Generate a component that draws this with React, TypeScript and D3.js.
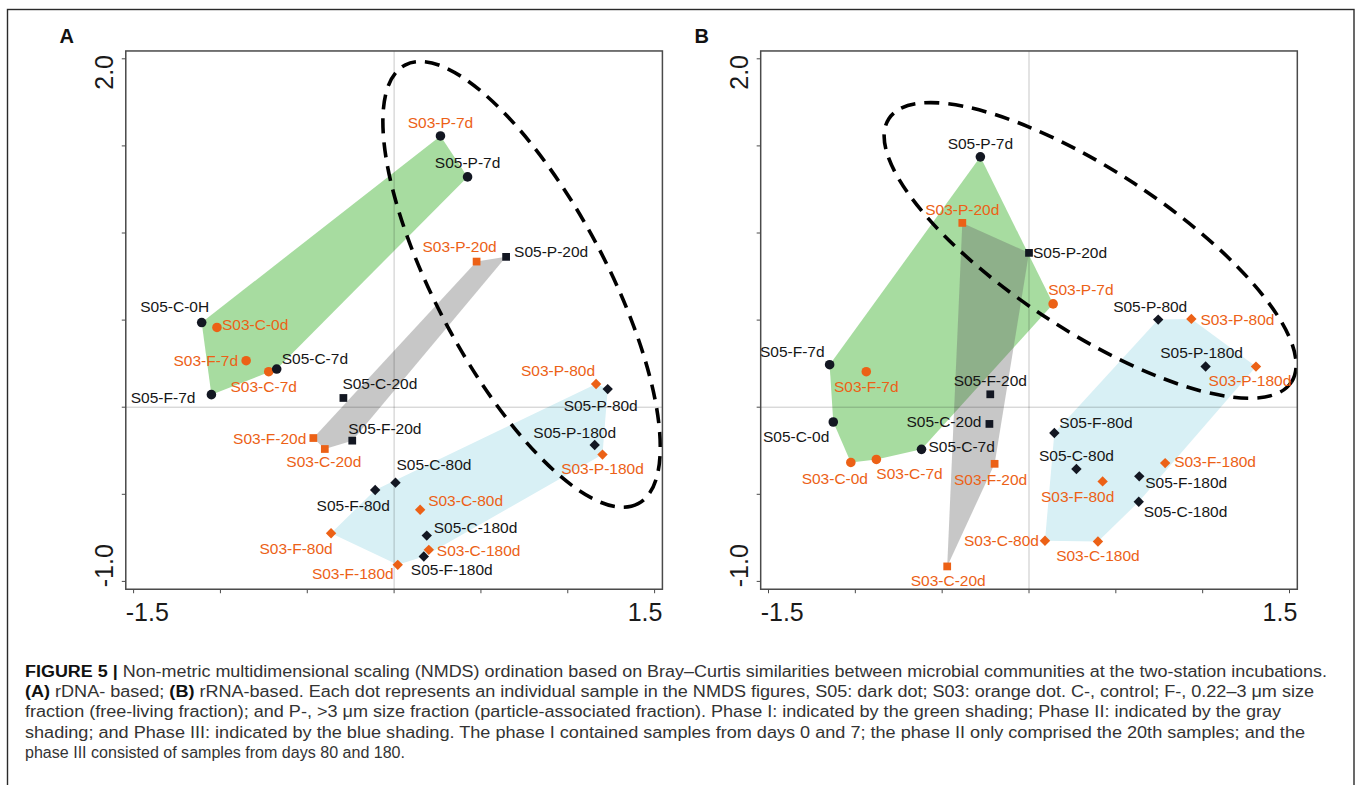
import * as d3 from 'd3'

const W = 1357
const H = 785

// NMDS scores, panel A (rDNA-based)
const POINTS_A = [
  { id: 'S03-P-7d', x: 0.267, y: 1.557 },
  { id: 'S05-P-7d', x: 0.423, y: 1.322 },
  { id: 'S03-P-20d', x: 0.475, y: 0.836 },
  { id: 'S05-P-20d', x: 0.645, y: 0.863 },
  { id: 'S05-C-0H', x: -1.108, y: 0.486 },
  { id: 'S03-C-0d', x: -1.02, y: 0.458 },
  { id: 'S03-F-7d', x: -0.852, y: 0.267 },
  { id: 'S03-C-7d', x: -0.722, y: 0.204 },
  { id: 'S05-C-7d', x: -0.676, y: 0.219 },
  { id: 'S05-F-7d', x: -1.052, y: 0.072 },
  { id: 'S05-C-20d', x: -0.292, y: 0.053 },
  { id: 'S05-F-20d', x: -0.241, y: -0.192 },
  { id: 'S03-F-20d', x: -0.465, y: -0.177 },
  { id: 'S03-C-20d', x: -0.399, y: -0.24 },
  { id: 'S05-C-80d', x: 0.008, y: -0.433 },
  { id: 'S05-F-80d', x: -0.109, y: -0.475 },
  { id: 'S03-C-80d', x: 0.15, y: -0.589 },
  { id: 'S05-C-180d', x: 0.188, y: -0.737 },
  { id: 'S03-C-180d', x: 0.2, y: -0.819 },
  { id: 'S05-F-180d', x: 0.171, y: -0.857 },
  { id: 'S03-F-180d', x: 0.021, y: -0.905 },
  { id: 'S03-F-80d', x: -0.363, y: -0.724 },
  { id: 'S03-P-80d', x: 1.163, y: 0.133 },
  { id: 'S05-P-80d', x: 1.23, y: 0.104 },
  { id: 'S05-P-180d', x: 1.155, y: -0.217 },
  { id: 'S03-P-180d', x: 1.2, y: -0.272 }
]

// panel B (rRNA-based)
const POINTS_B = [
  { id: 'S05-P-7d', x: -0.28, y: 1.437 },
  { id: 'S03-P-20d', x: -0.384, y: 1.058 },
  { id: 'S05-P-20d', x: 0.0, y: 0.886 },
  { id: 'S03-P-7d', x: 0.139, y: 0.593 },
  { id: 'S05-P-80d', x: 0.744, y: 0.503 },
  { id: 'S03-P-80d', x: 0.935, y: 0.507 },
  { id: 'S05-P-180d', x: 1.017, y: 0.234 },
  { id: 'S03-P-180d', x: 1.307, y: 0.233 },
  { id: 'S05-F-7d', x: -1.148, y: 0.244 },
  { id: 'S03-F-7d', x: -0.937, y: 0.204 },
  { id: 'S05-F-20d', x: -0.223, y: 0.074 },
  { id: 'S05-C-0d', x: -1.127, y: -0.085 },
  { id: 'S05-C-20d', x: -0.228, y: -0.096 },
  { id: 'S05-F-80d', x: 0.146, y: -0.148 },
  { id: 'S05-C-7d', x: -0.619, y: -0.242 },
  { id: 'S03-C-0d', x: -1.026, y: -0.317 },
  { id: 'S03-C-7d', x: -0.879, y: -0.3 },
  { id: 'S03-F-20d', x: -0.198, y: -0.325 },
  { id: 'S03-F-180d', x: 0.784, y: -0.321 },
  { id: 'S05-C-80d', x: 0.273, y: -0.355 },
  { id: 'S05-F-180d', x: 0.635, y: -0.397 },
  { id: 'S03-F-80d', x: 0.424, y: -0.426 },
  { id: 'S05-C-180d', x: 0.632, y: -0.543 },
  { id: 'S03-C-80d', x: 0.092, y: -0.767 },
  { id: 'S03-C-180d', x: 0.397, y: -0.771 },
  { id: 'S03-C-20d', x: -0.471, y: -0.914 }
]

// dashed ellipses marking the particle-associated samples (data units, degrees)
const ELLIPSE_A = { cx: 0.734, cy: 0.705, rx: 1.43, ry: 0.49, angle: 62 }
const ELLIPSE_B = { cx: 0.352, cy: 0.9, rx: 1.385, ry: 0.462, angle: 33.2 }

// samples left out of a phase outline
const HULL_SKIP_A = ['S05-C-20d']
const HULL_SKIP_B: string[] = []
// S03-P-7d is drawn with a dark dot in panel A
const DARK_A = ['S03-P-7d']
const DARK_B: string[] = []

const X_TICKS = [-1.5, -1, -0.5, 0, 0.5, 1, 1.5]
const Y_TICKS = [-1, -0.5, 0, 0.5, 1, 1.5, 2]
const X_LABELS = ['-1.5', '1.5']
const Y_LABELS = ['-1.0', '2.0']

const PHASES = [
  { key: 'I', days: ['0H', '0d', '7d'], fill: '#a7dca0', opacity: 1 },
  { key: 'III', days: ['80d', '180d'], fill: '#d8f0f5', opacity: 1 },
  { key: 'II', days: ['20d'], fill: '#646464', opacity: 0.36 }
]

// label offsets from the marker: [dx, dy, anchor]
const LABELS_A: Record<string, [number, number, string]> = {
  'S03-P-7d': [0, -13, 'middle'],
  'S05-P-7d': [0, -14, 'middle'],
  'S03-P-20d': [-17, -15, 'middle'],
  'S05-P-20d': [8, -5, 'start'],
  'S05-C-0H': [-27, -16, 'middle'],
  'S03-C-0d': [5, -3, 'start'],
  'S03-F-7d': [-8, 0, 'end'],
  'S05-C-7d': [5, -11, 'start'],
  'S03-C-7d': [-5, 15, 'middle'],
  'S05-F-7d': [-16, 3, 'end'],
  'S05-C-20d': [-1, -14, 'start'],
  'S05-F-20d': [-4, -12, 'start'],
  'S03-F-20d': [-7, 0, 'end'],
  'S03-C-20d': [-1, 12, 'middle'],
  'S05-C-80d': [1, -18, 'start'],
  'S05-F-80d': [-22, 16, 'middle'],
  'S03-C-80d': [8, -9, 'start'],
  'S05-C-180d': [7, -8, 'start'],
  'S03-C-180d': [8, 1, 'start'],
  'S05-F-180d': [-13, 13, 'start'],
  'S03-F-180d': [-4, 9, 'end'],
  'S03-F-80d': [-35, 15, 'middle'],
  'S03-P-80d': [-1, -14, 'end'],
  'S05-P-80d': [-7, 16, 'middle'],
  'S05-P-180d': [-20, -13, 'middle'],
  'S03-P-180d': [0, 14, 'middle']
}

const LABELS_B: Record<string, [number, number, string]> = {
  'S05-P-7d': [0, -13, 'middle'],
  'S03-P-20d': [0, -13, 'middle'],
  'S05-P-20d': [4, 0, 'start'],
  'S03-P-7d': [-5, -14, 'start'],
  'S05-P-80d': [-8, -13, 'middle'],
  'S03-P-80d': [9, 1, 'start'],
  'S05-P-180d': [-4, -14, 'middle'],
  'S03-P-180d': [-6, 14, 'middle'],
  'S05-F-7d': [-5, -13, 'end'],
  'S03-F-7d': [0, 15, 'middle'],
  'S05-F-20d': [0, -14, 'middle'],
  'S05-C-0d': [-4, 14, 'end'],
  'S05-C-20d': [-8, -2, 'end'],
  'S05-F-80d': [5, -10, 'start'],
  'S05-C-7d': [7, -3, 'start'],
  'S03-C-0d': [-16, 16, 'middle'],
  'S03-C-7d': [0, 14, 'start'],
  'S03-F-20d': [-4, 16, 'middle'],
  'S05-C-80d': [0, -14, 'middle'],
  'S03-F-180d': [9, -2, 'start'],
  'S05-F-180d': [6, 6, 'start'],
  'S03-F-80d': [-25, 15, 'middle'],
  'S05-C-180d': [5, 10, 'start'],
  'S03-C-80d': [-6, 0, 'end'],
  'S03-C-180d': [0, 14, 'middle'],
  'S03-C-20d': [1, 14, 'middle']
}

const CAPTION = [
  { bold: 'FIGURE 5 | ', text: 'Non-metric multidimensional scaling (NMDS) ordination based on Bray–Curtis similarities between microbial communities at the two-station incubations.', end: 1327 },
  { bold: '(A)', text: ' rDNA- based; ', bold2: '(B)', text2: ' rRNA-based. Each dot represents an individual sample in the NMDS figures, S05: dark dot; S03: orange dot. C-, control; F-, 0.22–3 μm size', end: 1314 },
  { text: 'fraction (free-living fraction); and P-, >3 μm size fraction (particle-associated fraction). Phase I: indicated by the green shading; Phase II: indicated by the gray', end: 1281 },
  { text: 'shading; and Phase III: indicated by the blue shading. The phase I contained samples from days 0 and 7; the phase II only comprised the 20th samples; and the', end: 1305 },
  { text: 'phase III consisted of samples from days 80 and 180.', end: 405 }
]

const ORANGE = '#ec6116'
const DARK = '#131722'
const FONT = '"Liberation Sans", Arial, Helvetica, sans-serif'

const dayOf = (id: string) => id.split('-')[2]

function Panel({ points, labels, ellipse, hullSkip, dark, x0, letter }) {
  const pad = 0.045
  const x = d3.scaleLinear().domain([-1.5, 1.5]).range([x0, x0 + 521])
  const y = d3.scaleLinear().domain([-1, 2]).range([581.4, 58.8])
  const unit = x(1) - x(0)
  const bx0 = x(-1.5 - pad)
  const bx1 = x(1.5 + pad)
  const by0 = y(2 + pad)
  const by1 = y(-1 - pad)

  const hulls = PHASES.map(ph => {
    const pts = points
      .filter(p => ph.days.includes(dayOf(p.id)) && !hullSkip.includes(p.id))
      .map(p => [x(p.x), y(p.y)] as [number, number])
    const hull = d3.polygonHull(pts)
    return { ...ph, d: hull ? 'M' + hull.join('L') + 'Z' : '' }
  })

  const ecx = x(ellipse.cx)
  const ecy = y(ellipse.cy)

  const circle = d3.symbol().type(d3.symbolCircle).size(72)
  const square = d3.symbol().type(d3.symbolSquare).size(60)
  const diamond = d3.symbol().type(d3.symbolSquare).size(54)

  return (
    <g>
      <text x={x0 - 74} y={43.3} fontFamily={FONT} fontWeight="bold" fontSize={20} fill="#111">{letter}</text>

      {hulls.map(h => (
        <path key={h.key} d={h.d} fill={h.fill} fillOpacity={h.opacity} stroke="none" />
      ))}

      {/* zero lines */}
      <line x1={bx0} x2={bx1} y1={y(0)} y2={y(0)} stroke="#000" strokeOpacity={0.22} strokeWidth={1} />
      <line x1={x(0)} x2={x(0)} y1={by0} y2={by1} stroke="#000" strokeOpacity={0.22} strokeWidth={1} />

      <ellipse
        cx={ecx}
        cy={ecy}
        rx={ellipse.rx * unit}
        ry={ellipse.ry * unit}
        transform={`rotate(${ellipse.angle} ${ecx} ${ecy})`}
        fill="none"
        stroke="#000"
        strokeWidth={3.6}
        strokeDasharray="15 9"
      />

      {/* box, ticks */}
      <rect x={bx0} y={by0} width={bx1 - bx0} height={by1 - by0} fill="none" stroke="#4a4a4a" strokeWidth={1.5} />
      {X_TICKS.map(t => (
        <line key={'xt' + t} x1={x(t)} x2={x(t)} y1={by1} y2={by1 + 4} stroke="#4a4a4a" strokeWidth={1} />
      ))}
      {Y_TICKS.map(t => (
        <line key={'yt' + t} x1={bx0 - 4} x2={bx0} y1={y(t)} y2={y(t)} stroke="#4a4a4a" strokeWidth={1} />
      ))}
      <text x={bx0} y={612} textAnchor="start" dominantBaseline="central" fontFamily={FONT} fontSize={25} fill="#1a1a1a">{X_LABELS[0]}</text>
      <text x={bx1} y={612} textAnchor="end" dominantBaseline="central" fontFamily={FONT} fontSize={25} fill="#1a1a1a">{X_LABELS[1]}</text>
      <text transform={`translate(${bx0 - 22},${by1 - 2}) rotate(-90)`} textAnchor="start" dominantBaseline="central" fontFamily={FONT} fontSize={25} fill="#1a1a1a">{Y_LABELS[0]}</text>
      <text transform={`translate(${bx0 - 22},${by0 + 4}) rotate(-90)`} textAnchor="end" dominantBaseline="central" fontFamily={FONT} fontSize={25} fill="#1a1a1a">{Y_LABELS[1]}</text>

      {/* markers */}
      {points.map(p => {
        const day = dayOf(p.id)
        const orange = p.id.startsWith('S03') && !dark.includes(p.id)
        const col = orange ? ORANGE : DARK
        const isSq = day === '20d'
        const isDia = day === '80d' || day === '180d'
        const d = isDia ? diamond() : isSq ? square() : circle()
        return (
          <path
            key={'m' + p.id}
            d={d}
            fill={col}
            transform={`translate(${x(p.x)},${y(p.y)})${isDia ? ' rotate(45)' : ''}`}
          />
        )
      })}

      {/* labels */}
      {points.map(p => {
        const [dx, dy, anchor] = labels[p.id]
        const col = p.id.startsWith('S03') ? ORANGE : '#161616'
        return (
          <text
            key={'l' + p.id}
            x={x(p.x) + dx}
            y={y(p.y) + dy}
            textAnchor={anchor}
            dominantBaseline="central"
            fontFamily={FONT}
            fontSize={15.5}
            fill={col}
          >
            {p.id}
          </text>
        )
      })}
    </g>
  )
}

export default function App() {
  const capX = 25
  const baseY = 676.8
  const lineH = 20.3
  return (
    <svg width={W} height={H} style={{ position: 'absolute', left: 0, top: 0, display: 'block', background: '#fff' }}>
      <rect x={0} y={0} width={W} height={H} fill="#fff" />
      <rect x={7.5} y={9.5} width={1346.5} height={820} fill="none" stroke="#2a2a2a" strokeWidth={1.4} />

      <Panel points={POINTS_A} labels={LABELS_A} ellipse={ELLIPSE_A} hullSkip={HULL_SKIP_A} dark={DARK_A} x0={133.6} letter="A" />
      <Panel points={POINTS_B} labels={LABELS_B} ellipse={ELLIPSE_B} hullSkip={HULL_SKIP_B} dark={DARK_B} x0={768.5} letter="B" />

      {CAPTION.map((c, i) => (
        <text
          key={'cap' + i}
          x={capX}
          y={baseY + i * lineH}
          fontFamily={FONT}
          fontSize={16}
          fill="#333"
          textLength={c.end - capX}
          lengthAdjust="spacingAndGlyphs"
        >
          {c.bold && <tspan fontWeight="bold" fill="#111">{c.bold}</tspan>}
          <tspan>{c.text}</tspan>
          {c.bold2 && <tspan fontWeight="bold" fill="#111">{c.bold2}</tspan>}
          {c.text2 && <tspan>{c.text2}</tspan>}
        </text>
      ))}
    </svg>
  )
}
